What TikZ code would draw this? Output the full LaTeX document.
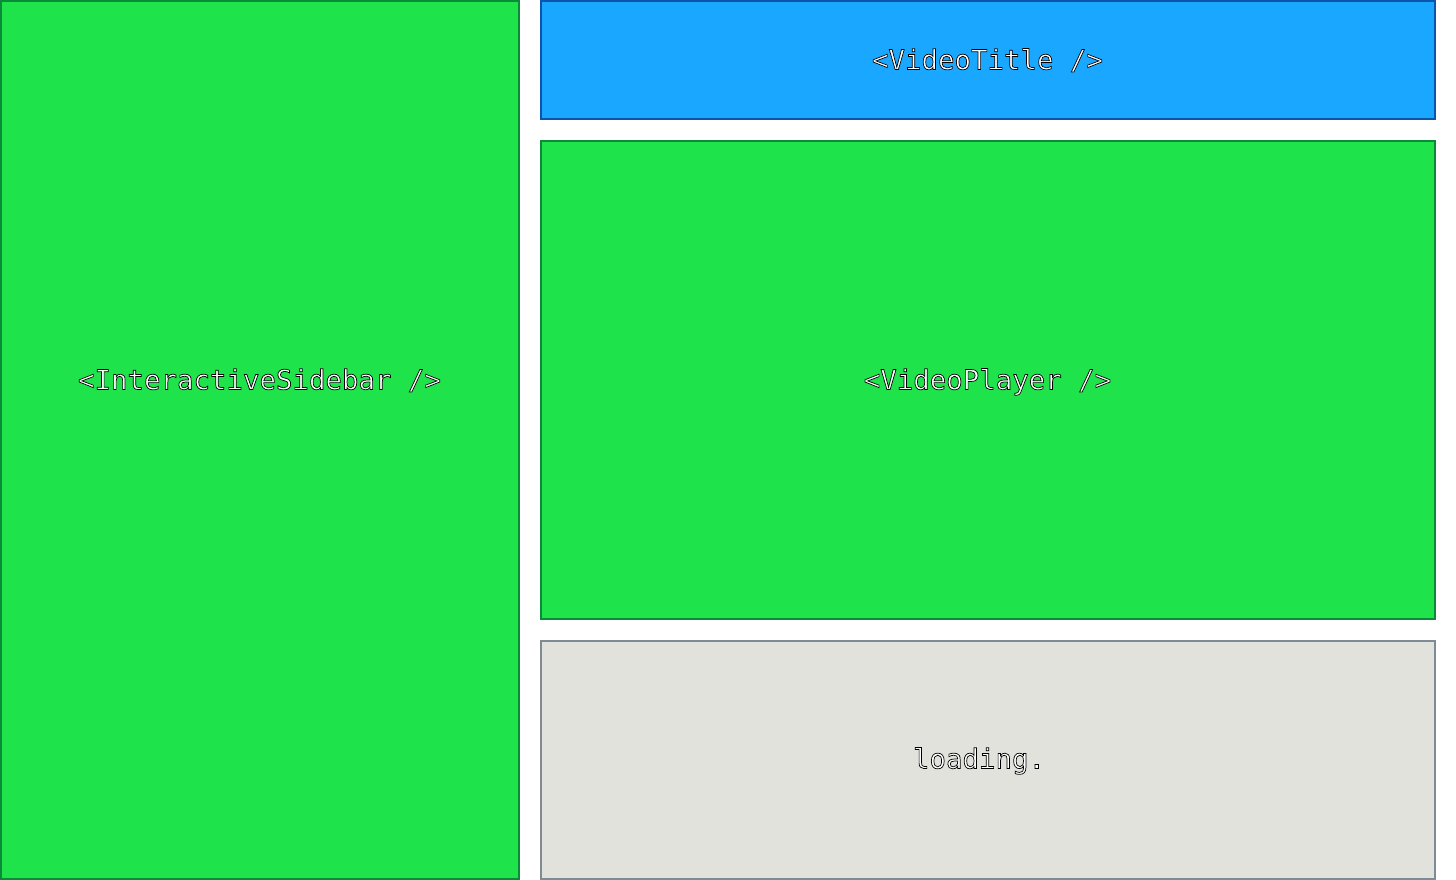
\documentclass[tikz,border=0pt]{standalone}
\usepackage{fontspec}
\setmonofont{DejaVu Sans Mono}
\definecolor{gfill}{RGB}{30,227,75}
\definecolor{gline}{RGB}{11,138,58}
\definecolor{bfill}{RGB}{26,167,255}
\definecolor{bline}{RGB}{12,85,170}
\definecolor{kfill}{RGB}{225,226,220}
\definecolor{kline}{RGB}{128,138,148}
\newcommand\outlinetext[1]{\special{pdf:literal direct 2 Tr 0.7 w 0 G}#1\special{pdf:literal direct 0 Tr}}
\tikzset{
  panel/.style={line width=2pt},
  lbl/.style={font=\ttfamily\fontsize{27.4}{30}\selectfont, text=white, inner sep=0pt, anchor=base},
}
\begin{document}
\begin{tikzpicture}[x=1pt,y=-1pt]
\useasboundingbox (0,0) rectangle (1456,880);
\draw[panel, fill=gfill, draw=gline] (1,1) rectangle (519,879);
\draw[panel, fill=bfill, draw=bline] (541,1) rectangle (1435,119);
\draw[panel, fill=gfill, draw=gline] (541,141) rectangle (1435,619);
\draw[panel, fill=kfill, draw=kline] (541,641) rectangle (1435,879);
\node[lbl] (sidebar) at (259.5,389.5) {\outlinetext{<InteractiveSidebar />}};
\node[lbl] (title) at (987.5,69.5) {\outlinetext{<VideoTitle />}};
\node[lbl] (player) at (987.5,389.5) {\outlinetext{<VideoPlayer />}};
\node[lbl] (loading) at (979,768.5) {\outlinetext{loading.}};
\end{tikzpicture}
\end{document}
